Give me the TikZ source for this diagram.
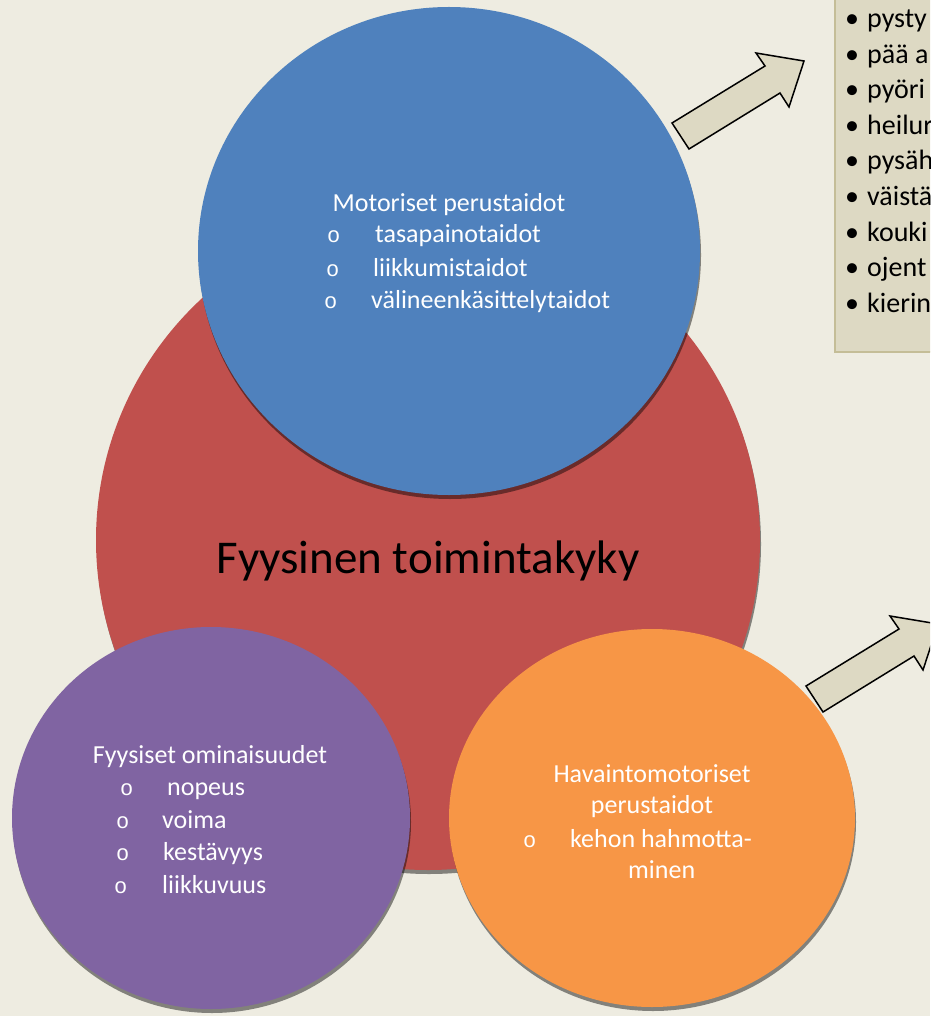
\documentclass[tikz,border=0pt]{standalone}
\usepackage{fontspec}
\setmainfont{Carlito}
\newfontfamily\monofnt{Liberation Mono}
\usetikzlibrary{shapes.geometric,shadows}
\definecolor{bgc}{HTML}{EEECE1}
\definecolor{cblue}{HTML}{4F81BD}
\definecolor{cred}{HTML}{C0504D}
\definecolor{cpurple}{HTML}{8064A2}
\definecolor{corange}{HTML}{F79646}
\definecolor{ctan}{HTML}{DDD9C3}
\definecolor{cboxline}{HTML}{C4BD97}
\tikzset{
  blob/.style={ellipse, inner sep=0pt, draw=none,
    drop shadow={shadow xshift=1pt, shadow yshift=-4pt, opacity=0.45, fill=black}},
  ctext/.style={inner sep=0pt, text=white, font=\fontsize{26}{32}\selectfont},
  cbul/.style={inner sep=0pt, text=white, font=\monofnt\fontsize{22}{26}\selectfont},
  btext/.style={inner sep=0pt, text=black, font=\fontsize{28}{34}\selectfont},
  bigtext/.style={inner sep=0pt, text=black, font=\fontsize{47}{56}\selectfont},
  blockarrow/.style={fill=ctan, draw=black, line width=1.5pt, line join=miter},
}
\begin{document}
\begin{tikzpicture}[x=1pt,y=-1pt]
\useasboundingbox (0,0) rectangle (930,1016);
\clip (0,0) rectangle (930,1016);
\fill[bgc] (0,0) rectangle (930,1016);

% circles
\node[blob, fill=cred, minimum width=664pt, minimum height=660pt] (red) at (428,540) {};
\node[blob, fill=cblue, minimum width=502pt, minimum height=488pt] (blue) at (449,251) {};
\node[blob, fill=cpurple, minimum width=398pt, minimum height=382pt] (purple) at (211,818) {};
\node[blob, fill=corange, minimum width=406pt, minimum height=378pt] (orange) at (652,818) {};

% main title
\node[bigtext, anchor=base] (title) at (428,573) {Fyysinen toimintakyky};

% blue text
\node[ctext, anchor=base] (m0) at (449,212) {Motoriset perustaidot};
\node[cbul, anchor=base west] (mb1) at (327,243) {o};
\node[ctext, anchor=base west] (m1) at (375,243) {tasapainotaidot};
\node[cbul, anchor=base west] (mb2) at (326,276) {o};
\node[ctext, anchor=base west] (m2) at (373,276) {liikkumistaidot};
\node[cbul, anchor=base west] (mb3) at (324,308) {o};
\node[ctext, anchor=base west] (m3) at (371,308) {välineenkäsittelytaidot};

% purple text
\node[ctext, anchor=base] (p0) at (210,763) {Fyysiset ominaisuudet};
\node[cbul, anchor=base west] (pb1) at (120,795) {o};
\node[ctext, anchor=base west] (p1) at (167,795) {nopeus};
\node[cbul, anchor=base west] (pb2) at (116,828) {o};
\node[ctext, anchor=base west] (p2) at (162,828) {voima};
\node[cbul, anchor=base west] (pb3) at (116,860) {o};
\node[ctext, anchor=base west] (p3) at (163,860) {kestävyys};
\node[cbul, anchor=base west] (pb4) at (114,893) {o};
\node[ctext, anchor=base west] (p4) at (162,893) {liikkuvuus};

% orange text
\node[ctext, anchor=base] (o0) at (652,782) {Havaintomotoriset};
\node[ctext, anchor=base] (o1) at (652,813) {perustaidot};
\node[cbul, anchor=base west] (ob1) at (523,847) {o};
\node[ctext, anchor=base west] (o2) at (570,847) {kehon hahmotta-};
\node[ctext, anchor=base west] (o3) at (628,878) {minen};

% text box top right
\draw[fill=ctan, draw=cboxline, line width=1.5pt] (835,-10) rectangle (960,352);
\foreach \yy/\tt [count=\i] in {28/pysty, 63.5/pää a, 99/pyöri, 134.5/heilur, 170/pysäh, 205.5/väistä, 241/kouki, 276.5/ojent, 312/kierin}{
  \node[btext, anchor=base west] (bb\i) at (845,\yy) {•};
  \node[btext, anchor=base west] (bt\i) at (867,\yy) {\tt};
}

% block arrows
\draw[blockarrow] (672,123) -- (765,66) -- (756,53) -- (804,61) -- (789,107) -- (780,93) -- (689,149) -- cycle;
\begin{scope}[shift={(134,563)}]
\draw[blockarrow] (672,123) -- (765,66) -- (756,53) -- (804,61) -- (789,107) -- (780,93) -- (689,149) -- cycle;
\end{scope}
\end{tikzpicture}
\end{document}
